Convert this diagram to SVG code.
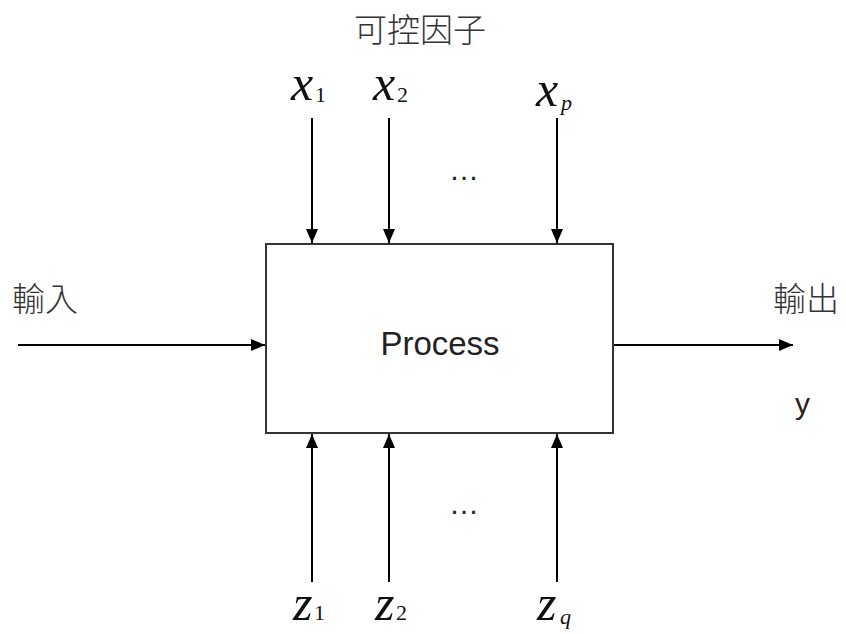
<svg xmlns="http://www.w3.org/2000/svg" width="846" height="634" viewBox="0 0 846 634">
<style>
.ln{stroke:#000;stroke-width:2;fill:none}
.cjk{font-family:"Noto Sans CJK TC","Noto Sans CJK SC",sans-serif;font-size:33px;fill:#333;font-weight:300}
.var{font-family:"Liberation Serif",serif;font-style:italic;font-size:50px;fill:#111}
.sub{font-family:"Liberation Serif",serif;font-size:22px;fill:#111}
.subi{font-family:"Liberation Serif",serif;font-style:italic;font-size:22px;fill:#111}
.lbl{font-family:"Liberation Sans",Arial,sans-serif;fill:#222}
</style>
<defs>
<marker id="ahb" markerWidth="14" markerHeight="12" refX="14" refY="6" orient="auto" markerUnits="userSpaceOnUse" viewBox="0 0 14 12">
<path d="M0,0 L14,6 L0,12 Z" fill="#000"/>
</marker>
</defs>
<text class="cjk" x="420" y="42" text-anchor="middle" font-size="35">可控因子</text>
<g id="process">
<rect x="266" y="244" width="347" height="189" fill="#fff" stroke="#333" stroke-width="2"/>
<text class="lbl" x="440" y="355" text-anchor="middle" font-size="33">Process</text>
</g>
<g id="x1"><text class="var" x="291" y="100">x</text><text class="sub" x="315" y="102">1</text></g>
<g id="x2"><text class="var" x="373" y="100">x</text><text class="sub" x="397" y="102">2</text></g>
<g id="xp"><text class="var" x="536" y="106">x</text><text class="subi" x="561" y="110">p</text></g>
<g id="z1"><text class="var" x="293" y="620">z</text><text class="sub" x="314" y="620">1</text></g>
<g id="z2"><text class="var" x="375" y="620">z</text><text class="sub" x="396" y="620">2</text></g>
<g id="zq"><text class="var" x="537" y="620">z</text><text class="subi" x="560" y="624">q</text></g>
<g id="dots"><text class="lbl" x="464" y="180" text-anchor="middle" font-size="30">…</text><text class="lbl" x="464" y="514" text-anchor="middle" font-size="30">…</text></g>
<g id="input"><text class="cjk" x="12" y="311">輸入</text></g>
<g id="output"><text class="cjk" x="773" y="311">輸出</text><text class="lbl" x="795" y="414" font-size="30">y</text></g>
<g id="connectors">
<line class="ln" x1="312" y1="118" x2="312" y2="243" marker-end="url(#ahb)"/>
<line class="ln" x1="389" y1="118" x2="389" y2="243" marker-end="url(#ahb)"/>
<line class="ln" x1="557" y1="118" x2="557" y2="243" marker-end="url(#ahb)"/>
<line class="ln" x1="312" y1="582" x2="312" y2="434" marker-end="url(#ahb)"/>
<line class="ln" x1="389" y1="582" x2="389" y2="434" marker-end="url(#ahb)"/>
<line class="ln" x1="557" y1="582" x2="557" y2="434" marker-end="url(#ahb)"/>
<line class="ln" x1="18" y1="345" x2="265" y2="345" marker-end="url(#ahb)"/>
<line class="ln" x1="614" y1="345" x2="793" y2="345" marker-end="url(#ahb)"/>
</g>
</svg>
